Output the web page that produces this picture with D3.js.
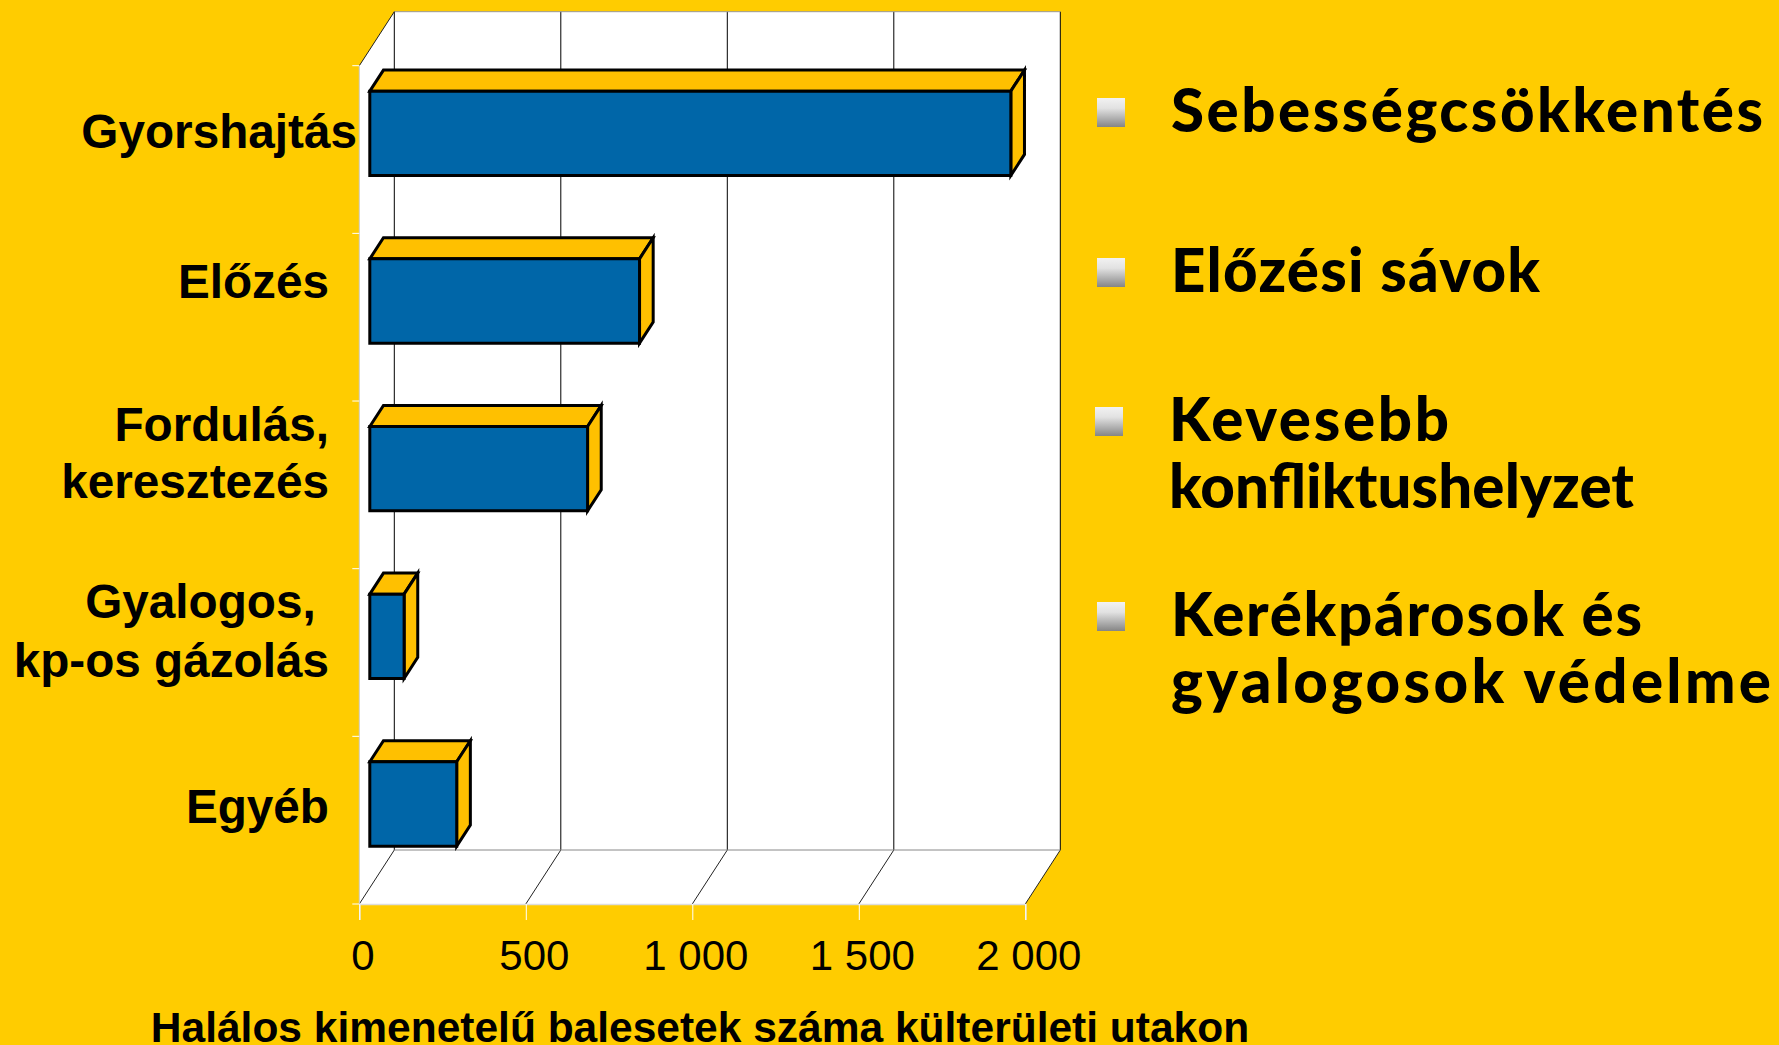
<!DOCTYPE html>
<html>
<head>
<meta charset="utf-8">
<script src="https://cdn.jsdelivr.net/npm/d3@7"></script>
<style>
html, body { margin: 0; padding: 0; background: #ffcc00; overflow: hidden; }
svg { display: block; }
.cat { font: bold 47.7px "Liberation Sans", sans-serif; fill: #000; }
.tick-label { font: 42px "Liberation Sans", sans-serif; fill: #000; }
.axis-title { font: bold 42.5px "Liberation Sans", sans-serif; fill: #000; }
.legend-label { font: 900 60px "Lato", sans-serif; fill: #000; }
</style>
</head>
<body>
<svg id="chart" width="1779" height="1045"></svg>
<script>
// values
const categories = ["Gyorshajtás", "Előzés", "Fordulás, keresztezés", "Gyalogos, kp-os gázolás", "Egyéb"];
const categoryLines = [["Gyorshajtás"], ["Előzés"], ["Fordulás,", "keresztezés"], ["Gyalogos, ", "kp-os gázolás"], ["Egyéb"]];
const deaths = [1925, 810, 654, 103, 261];
const xTicks = [0, 500, 1000, 1500, 2000];
const xTitle = "Halálos kimenetelű balesetek száma külterületi utakon";
const measures = [["Sebességcsökkentés"], ["Előzési sávok"], ["Kevesebb", "konfliktushelyzet"], ["Kerékpárosok és", "gyalogosok védelme"]];

const svg = d3.select("#chart");

// front edge of the floor, the back wall sits depth px behind it
const x = d3.scaleLinear().domain([0, 2000]).range([359.3, 1025.3]);
const y = d3.scaleBand().domain(categories).range([65.7, 904]).paddingInner(0.497).paddingOuter(0.2485);
const band = d3.scaleBand().domain(categories).range([65.7, 904]);
const depth = { dx: 35, dy: -54 };
const barFront = 0.3, barBack = 0.69;

const pt = (v, py, t) => [x(v) + depth.dx * t, py + depth.dy * t];
const poly = pts => "M" + pts.map(p => p.join(",")).join("L") + "Z";

const defs = svg.append("defs");
const grad = defs.append("linearGradient").attr("id", "bullet").attr("x1", 0).attr("y1", 0).attr("x2", 0).attr("y2", 1);
grad.append("stop").attr("offset", "0%").attr("stop-color", "#f2f2f2");
grad.append("stop").attr("offset", "35%").attr("stop-color", "#e2e2e2");
grad.append("stop").attr("offset", "100%").attr("stop-color", "#858585");

// walls and floor
const yTop = y.range()[0], yBottom = y.range()[1];
svg.append("path").attr("fill", "#fff")
    .attr("d", poly([pt(0, yTop, 0), pt(0, yTop, 1), pt(2000, yTop, 1), pt(2000, yBottom, 1), pt(2000, yBottom, 0), pt(0, yBottom, 0)]));

// grid on the back wall and floor
const grid = svg.append("g");
xTicks.forEach(t => {
    const a = pt(t, yTop, 1), b = pt(t, yBottom, 1), c = pt(t, yBottom, 0);
    grid.append("line").attr("x1", a[0]).attr("y1", a[1]).attr("x2", b[0]).attr("y2", b[1])
        .attr("stroke", "#000").attr("stroke-width", 1);
    grid.append("line").attr("x1", b[0]).attr("y1", b[1]).attr("x2", c[0]).attr("y2", c[1])
        .attr("stroke", "#222").attr("stroke-width", 1);
});
const backTop = pt(0, yTop, 1), backTopR = pt(2000, yTop, 1), backBot = pt(0, yBottom, 1), backBotR = pt(2000, yBottom, 1);
svg.append("line").attr("x1", backTop[0]).attr("y1", backTop[1]).attr("x2", backTopR[0]).attr("y2", backTopR[1]).attr("stroke", "#999").attr("stroke-width", 1);
svg.append("line").attr("x1", backBot[0]).attr("y1", backBot[1]).attr("x2", backBotR[0]).attr("y2", backBotR[1]).attr("stroke", "#888").attr("stroke-width", 1);
svg.append("line").attr("x1", x(0)).attr("y1", yTop).attr("x2", backTop[0]).attr("y2", backTop[1]).attr("stroke", "#222").attr("stroke-width", 1);
svg.append("line").attr("x1", x(0)).attr("y1", yTop).attr("x2", x(0)).attr("y2", yBottom).attr("stroke", "#ccc").attr("stroke-width", 1);

// bars
const bars = svg.selectAll("g.bar").data(categories).join("g").attr("class", "bar")
    .attr("stroke", "#000").attr("stroke-width", 3).attr("stroke-linejoin", "miter");
bars.each(function (c, i) {
    const g = d3.select(this);
    const v = deaths[i];
    const y0 = y(c), y1 = y(c) + y.bandwidth();
    const lt = pt(0, y0, barFront), rt = pt(v, y0, barFront), rb = pt(v, y1, barFront), lb = pt(0, y1, barFront);
    const ltB = pt(0, y0, barBack), rtB = pt(v, y0, barBack), rbB = pt(v, y1, barBack);
    g.append("path").attr("fill", "#ffc000").attr("d", poly([lt, ltB, rtB, rt]));
    g.append("path").attr("fill", "#ffc000").attr("d", poly([rt, rtB, rbB, rb]));
    g.append("path").attr("fill", "#0066a8").attr("d", poly([lt, rt, rb, lb]));
});

// x axis
const xAxis = svg.append("g").attr("transform", "translate(0," + yBottom + ")")
    .call(d3.axisBottom(x).tickValues(xTicks).tickSize(16).tickPadding(20)
        .tickFormat(d => d3.format(",")(d).replace(",", " ")));
xAxis.select(".domain").attr("stroke", "#ddd").attr("stroke-width", 1.5);
xAxis.selectAll(".tick line").attr("stroke", "#fff");
xAxis.selectAll(".tick text").attr("class", "tick-label").attr("dx", d => d === 500 ? 8 : 3);

svg.append("text").attr("class", "axis-title").attr("x", 700).attr("y", 1041.5)
    .attr("text-anchor", "middle").text(xTitle);

// category ticks and labels
const catAxis = svg.append("g");
[...categories.map(c => band(c)), yBottom].forEach(p => {
    catAxis.append("line").attr("x1", x(0) - 7).attr("x2", x(0)).attr("y1", p).attr("y2", p).attr("stroke", "#fff");
});
const catBase = [[148], [298], [441, 497.5], [618, 677], [823]];
svg.selectAll("text.cat").data(categories).join("text").attr("class", "cat")
    .attr("text-anchor", "end")
    .each(function (c, i) {
        const right = i === 0 ? 357 : 329;
        d3.select(this).selectAll("tspan").data(categoryLines[i]).join("tspan")
            .attr("x", right)
            .attr("y", (d, j) => catBase[i][j])
            .attr("xml:space", "preserve")
            .text(d => d);
    });

// list on the right, the original face is wider than Lato so each line is stretched to its width
const legendX = [1171, 1171, 1169, 1171];
const legendBullet = [1097, 1097, 1095, 1097];
const legendBase = [132, 292, 441, 636];
const legendWidth = [[592], [369], [280, 465], [471, 600]];
measures.forEach((lines, i) => {
    svg.append("rect").attr("x", legendBullet[i]).attr("y", legendBase[i] - 34)
        .attr("width", 28).attr("height", 29).attr("fill", "url(#bullet)");
    lines.forEach((l, j) => {
        svg.append("text").attr("class", "legend-label")
            .attr("x", legendX[i]).attr("y", legendBase[i] + j * 66.7)
            .attr("textLength", legendWidth[i][j]).attr("lengthAdjust", "spacing")
            .text(l);
    });
});
</script>
</body>
</html>
